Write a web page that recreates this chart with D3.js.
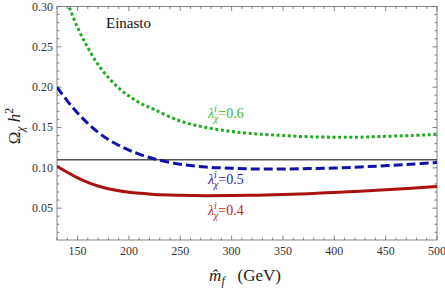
<!DOCTYPE html>
<html>
<head>
<meta charset="utf-8">
<script src="https://d3js.org/d3.v7.min.js"></script>
</head>
<body style="margin:0">
<div id="chart"></div>
<script>
// dark matter relic abundance vs mass, Einasto profile
var mass = [130, 140, 150, 160, 170, 180, 190, 200, 210, 225, 250, 275, 300, 325, 350, 375, 400, 425, 450, 475, 500];
var lam06 = [0.345, 0.306, 0.274, 0.249, 0.228, 0.212, 0.199, 0.189, 0.181, 0.172, 0.158, 0.150, 0.145, 0.142, 0.140, 0.1385, 0.138, 0.138, 0.139, 0.140, 0.1415];
var lam05 = [0.200, 0.183, 0.168, 0.155, 0.144, 0.135, 0.128, 0.122, 0.117, 0.111, 0.1045, 0.101, 0.0995, 0.0985, 0.0985, 0.099, 0.0997, 0.101, 0.1027, 0.1045, 0.1065];
var lam04 = [0.102, 0.0945, 0.0875, 0.082, 0.0775, 0.074, 0.0715, 0.0698, 0.0685, 0.067, 0.066, 0.0655, 0.0656, 0.0661, 0.0668, 0.0679, 0.0695, 0.071, 0.0727, 0.0746, 0.0767];
var omegaObs = 0.11;
var xTicks = [150, 200, 250, 300, 350, 400, 450, 500];
var yTicks = [0.05, 0.10, 0.15, 0.20, 0.25, 0.30];

var W = 445, H = 290;
var margin = {top: 6.5, right: 8, bottom: 50, left: 57};
var width = W - margin.left - margin.right,
    height = H - margin.top - margin.bottom;

var svg = d3.select("#chart").append("svg")
    .attr("width", W).attr("height", H)
    .style("font-family", "Liberation Serif");
var g = svg.append("g")
    .attr("transform", "translate(" + margin.left + "," + margin.top + ")");

var x = d3.scaleLinear().domain([130, 500]).range([0, width]);
var y = d3.scaleLinear().domain([0.0105, 0.30]).range([height, 0]);

svg.append("clipPath").attr("id", "clip")
  .append("rect").attr("width", width).attr("height", height);

// frame ticks, pointing inward, on all four sides
var xMinor = d3.range(130, 501, 10);
var yMinor = d3.range(1, 31).map(function(d) { return d / 100; }).filter(function(d) { return d >= 0.0105; });

function isMajor(v, list) { return list.some(function(t) { return Math.abs(t - v) < 1e-6; }); }

var frame = g.append("g").attr("stroke", "#666").attr("stroke-width", 0.8);
frame.append("rect").attr("width", width).attr("height", height).attr("fill", "none");

xMinor.forEach(function(v) {
  var len = isMajor(v, xTicks) ? 4.5 : 2.5;
  frame.append("line").attr("x1", x(v)).attr("x2", x(v)).attr("y1", height).attr("y2", height - len);
  frame.append("line").attr("x1", x(v)).attr("x2", x(v)).attr("y1", 0).attr("y2", len);
});
yMinor.forEach(function(v) {
  var len = isMajor(v, yTicks) ? 4.5 : 2.5;
  frame.append("line").attr("y1", y(v)).attr("y2", y(v)).attr("x1", 0).attr("x2", len);
  frame.append("line").attr("y1", y(v)).attr("y2", y(v)).attr("x1", width).attr("x2", width - len);
});

g.selectAll(".xlab").data(xTicks).enter().append("text")
  .style("font-family", "Liberation Serif")
  .attr("x", function(d) { return x(d); })
  .attr("y", height + 15)
  .attr("text-anchor", "middle")
  .attr("font-size", 12)
  .attr("fill", "#333")
  .text(function(d) { return d; });

g.selectAll(".ylab").data(yTicks).enter().append("text")
  .style("font-family", "Liberation Serif")
  .attr("x", -4)
  .attr("y", function(d) { return y(d) + 4; })
  .attr("text-anchor", "end")
  .attr("font-size", 12)
  .attr("fill", "#333")
  .text(function(d) { return d.toFixed(2); });

// curves
var plot = g.append("g").attr("clip-path", "url(#clip)");

plot.append("line")
  .attr("x1", 0).attr("x2", width)
  .attr("y1", y(omegaObs)).attr("y2", y(omegaObs))
  .attr("stroke", "#555").attr("stroke-width", 1.4);

var series = [
  {vals: lam04, color: "#aa1111", dash: null},
  {vals: lam05, color: "#1111aa", dash: "9,4"},
  {vals: lam06, color: "#22aa22", dash: "3,2.6"}
];

var line = d3.line()
  .x(function(d) { return x(d[0]); })
  .y(function(d) { return y(d[1]); })
  .curve(d3.curveCatmullRom);

series.forEach(function(s) {
  plot.append("path")
    .datum(mass.map(function(m, i) { return [m, s.vals[i]]; }))
    .attr("fill", "none")
    .attr("stroke", s.color)
    .attr("stroke-width", 3)
    .attr("stroke-dasharray", s.dash)
    .attr("d", line);
});

// labels
g.append("text").style("font-family", "Liberation Serif")
  .attr("x", 49).attr("y", 21).attr("font-size", 15).attr("fill", "#111").text("Einasto");

function lamLabel(xp, yp, val, color) {
  var t = g.append("text").style("font-family", "Liberation Serif")
    .attr("x", xp).attr("y", yp).attr("font-size", 14).attr("fill", color);
  t.append("tspan").attr("font-style", "italic").text("λ");
  t.append("tspan").attr("font-size", 10).attr("font-style", "italic").attr("dy", -6).text("i");
  t.append("tspan").attr("font-size", 10).attr("font-style", "italic").attr("dx", -3).attr("dy", 10).text("χ");
  t.append("tspan").attr("dy", -4).text("=" + val);
}
lamLabel(x(277), 111, "0.6", "#33bb33");
lamLabel(x(277), 177, "0.5", "#2222aa");
lamLabel(x(277), 208, "0.4", "#bb2222");

// axis titles
var xt = svg.append("text").style("font-family", "Liberation Serif")
  .attr("x", 245).attr("y", 281)
  .attr("text-anchor", "middle")
  .attr("font-size", 17).attr("fill", "#222");
xt.append("tspan").attr("font-style", "italic").text("m\u0302");
xt.append("tspan").attr("font-style", "italic").attr("font-size", 12).attr("dy", 4).text("f");
xt.append("tspan").attr("dy", -4).text("\u2002 (GeV)");

var yt = svg.append("text").style("font-family", "Liberation Serif")
  .attr("transform", "translate(20," + 126 + ") rotate(-90)")
  .attr("text-anchor", "middle")
  .attr("font-size", 17).attr("fill", "#222");
yt.append("tspan").text("Ω");
yt.append("tspan").attr("font-style", "italic").attr("font-size", 12).attr("dy", 4).text("χ");
yt.append("tspan").attr("font-style", "italic").attr("dy", -4).text(" h");
yt.append("tspan").attr("font-size", 12).attr("dy", -7).text("2");
</script>
</body>
</html>
